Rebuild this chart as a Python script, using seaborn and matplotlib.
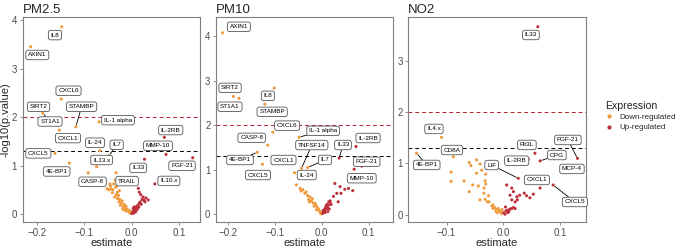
import matplotlib
matplotlib.use("Agg")
import matplotlib.pyplot as plt
from matplotlib.lines import Line2D
import seaborn as sns
import pandas as pd

# ---------------- data ----------------
panels = ["PM2.5", "PM10", "NO2"]

pm25_genes = ["IL8", "AXIN1", "CXCL6", "SIRT2", "ST1A1", "STAMBP", "IL-1 alpha", "CXCL1",
              "IL-24", "IL7", "IL13.x", "CXCL5", "4E-BP1", "CASP-8", "TRAIL", "IL33",
              "MMP-10", "IL-2RB", "FGF-21", "IL10.x"]
pm25_est = [-0.148, -0.2135, -0.149, -0.197, -0.188, -0.118, -0.069, -0.153,
            -0.067, -0.048, -0.074, -0.162, -0.132, -0.092, -0.033, 0.027,
            0.0725, 0.069, 0.129, 0.049]
pm25_logp = [3.86, 3.45, 2.37, 2.21, 2.08, 1.80, 1.90, 1.73,
             1.305, 1.20, 0.975, 1.25, 1.05, 0.85, 0.85, 1.13,
             1.23, 1.58, 1.16, 0.62]
pm25_bg_est = [-0.052, -0.048, -0.044, -0.040, -0.038, -0.035, -0.034, -0.030, -0.033, -0.036,
               -0.030, -0.028, -0.025, -0.027, -0.022, -0.024, -0.020, -0.018, -0.016, -0.014,
               -0.012, -0.010, -0.011, -0.008, -0.006, -0.005, -0.004, -0.003, -0.002, -0.001,
               -0.015, -0.019, -0.045, -0.041, -0.031, -0.046, -0.026,
               0.001, 0.002, 0.003, 0.004, 0.005, 0.006, 0.007, 0.008, 0.009, 0.010,
               0.011, 0.012, 0.013, 0.015, 0.016, 0.018, 0.020, 0.022, 0.024, 0.026,
               0.030, 0.035, 0.019, 0.028, 0.003, 0.006, 0.014, 0.016]
pm25_bg_logp = [0.52, 0.50, 0.52, 0.50, 0.62, 0.70, 0.55, 0.45, 0.40, 0.35,
                0.32, 0.38, 0.30, 0.25, 0.22, 0.18, 0.27, 0.15, 0.20, 0.12,
                0.16, 0.10, 0.06, 0.08, 0.05, 0.03, 0.07, 0.02, 0.04, 0.01,
                0.08, 0.10, 0.58, 0.44, 0.58, 0.62, 0.48,
                0.01, 0.03, 0.05, 0.02, 0.08, 0.06, 0.10, 0.04, 0.12, 0.08,
                0.15, 0.10, 0.18, 0.14, 0.22, 0.25, 0.20, 0.30, 0.35, 0.28,
                0.33, 0.29, 0.40, 0.25, 0.12, 0.15, 0.53, 0.45]

pm10_genes = ["AXIN1", "SIRT2", "ST1A1", "IL8", "STAMBP", "CXCL6", "CASP-8", "4E-BP1",
              "CXCL1", "CXCL5", "IL-1 alpha", "TNFSF14", "IL7", "IL-24", "IL33", "IL-2RB",
              "FGF-21", "MMP-10"]
pm10_est = [-0.211, -0.188, -0.176, -0.101, -0.121, -0.104, -0.115, -0.137,
            -0.126, -0.130, -0.048, -0.043, -0.030, -0.058, 0.037, 0.073,
            0.085, 0.069]
pm10_logp = [4.07, 2.64, 2.60, 2.83, 2.47, 1.84, 1.55, 1.39,
             1.12, 0.95, 1.73, 1.03, 1.05, 0.93, 1.26, 1.52,
             1.08, 1.01]
pm10_bg_est = [-0.054, -0.046, -0.040, -0.036, -0.030, -0.025, -0.028, -0.022, -0.018, -0.014,
               -0.012, -0.009, -0.007, -0.005, -0.003, -0.002, -0.020, -0.016, -0.033, -0.011,
               -0.044, -0.026, -0.001,
               0.028, 0.039, 0.049, 0.057, 0.066, 0.041, 0.032, 0.025, 0.035, 0.018,
               0.002, 0.004, 0.005, 0.006, 0.008, 0.009, 0.010, 0.011, 0.012, 0.014,
               0.015, 0.016, 0.018, 0.020, 0.003, 0.007, 0.013]
pm10_bg_logp = [0.66, 0.58, 0.55, 0.47, 0.42, 0.39, 0.33, 0.30, 0.25, 0.25,
                0.20, 0.15, 0.12, 0.08, 0.05, 0.02, 0.35, 0.18, 0.50, 0.10,
                0.52, 0.28, 0.01,
                0.69, 0.62, 0.56, 0.58, 0.53, 0.47, 0.47, 0.40, 0.28, 0.25,
                0.02, 0.05, 0.10, 0.08, 0.14, 0.18, 0.12, 0.22, 0.16, 0.20,
                0.28, 0.12, 0.30, 0.22, 0.08, 0.04, 0.06]

no2_genes = ["IL33", "IL4.x", "CD8A", "4E-BP1", "LIF", "Flt3L", "IL-2RB", "OPG",
             "FGF-21", "MCP-4", "CXCL1", "CXCL5"]
no2_est = [0.061, -0.109, -0.088, -0.153, 0.0265, 0.056, 0.044, 0.065,
           0.131, 0.120, 0.065, 0.088]
no2_logp = [3.67, 1.51, 1.13, 1.20, 0.71, 1.20, 1.08, 1.05,
            1.10, 0.95, 0.52, 0.58]
no2_bg_est = [-0.092, -0.092, -0.060, -0.057, -0.047, -0.041, -0.047, -0.038, -0.031, -0.032,
              -0.031, -0.069, -0.060, -0.054, -0.044, -0.034, -0.034, -0.041, -0.032, -0.028,
              -0.018, -0.015, -0.012, -0.009, -0.007, -0.005, -0.018, -0.013, -0.020, -0.026,
              -0.025, -0.010, -0.003, -0.002,
              0.006, 0.015, 0.018, 0.025, 0.029, 0.037, 0.041, 0.059, 0.012, 0.024,
              0.015, 0.021, 0.001, 0.005, 0.009, 0.012, 0.015, 0.018, 0.008, 0.003,
              0.021, 0.010, 0.047, 0.053, 0.004]
no2_bg_logp = [0.83, 0.65, 1.02, 0.96, 1.07, 0.99, 0.81, 0.87, 0.79, 0.66,
               0.60, 0.66, 0.45, 0.58, 0.56, 0.52, 0.42, 0.29, 0.30, 0.25,
               0.19, 0.14, 0.10, 0.12, 0.08, 0.06, 0.12, 0.06, 0.17, 0.37,
               0.25, 0.04, 0.02, 0.10,
               0.58, 0.52, 0.45, 0.29, 0.38, 0.42, 0.37, 0.64, 0.38, 0.35,
               0.29, 0.25, 0.04, 0.08, 0.09, 0.11, 0.12, 0.14, 0.04, 0.01,
               0.12, 0.06, 0.33, 0.40, 0.15]

# ---------------- label layout (pixel offsets from point, leaders) ----------------
pm25_offsets = {"IL8": (-6.7, -8.3), "AXIN1": (6.6, -8.3), "CXCL6": (7.3, 8.3), "SIRT2": (0, 0),
                "ST1A1": (7.3, -8.4), "STAMBP": (5.7, 20), "IL-1 alpha": (19, 1.7),
                "CXCL1": (8.7, -8), "IL-24": (-5, 8), "IL7": (7.7, 11), "IL13.x": (5, 6.7),
                "CXCL5": (-16.7, 0), "4E-BP1": (-12.6, -8.4), "CASP-8": (4.4, -9),
                "TRAIL": (11, -8.3), "IL33": (-6.3, -8.7), "MMP-10": (-8, 8.6),
                "IL-2RB": (6.4, 7.3), "FGF-21": (-10.7, -8), "IL10.x": (14, 3)}
pm25_leaders = {"ST1A1", "STAMBP", "IL7"}
pm10_offsets = {"AXIN1": (16.3, 6), "SIRT2": (-3.3, 8.7), "ST1A1": (-9, -8.4), "IL8": (-6.3, -7.7),
                "STAMBP": (7.3, -7.7), "CXCL6": (14.3, 6.6), "CASP-8": (-16, 7.3),
                "4E-BP1": (-17.3, -7.7), "CXCL1": (21, 4.3), "CXCL5": (-2.6, -3.1),
                "IL-1 alpha": (24, 6.3), "TNFSF14": (10.3, 23.3), "IL7": (17.4, 7.5),
                "IL-24": (12.3, -2.2), "IL33": (3.9, 13.1), "IL-2RB": (12, 8.5),
                "FGF-21": (5.1, 4.4), "MMP-10": (7.6, -9)}
pm10_leaders = {"4E-BP1", "IL-1 alpha", "TNFSF14", "IL7", "IL33"}
no2_offsets = {"IL33": (-6.9, -8.2), "IL4.x": (-7.5, 8.4), "CD8A": (-1.4, 6.8),
               "4E-BP1": (10.2, -11.7), "LIF": (-26.6, 13.3), "Flt3L": (-8.1, 8.3),
               "IL-2RB": (-11.5, -1.3), "OPG": (16.8, 5.9), "FGF-21": (-9.6, 18.4),
               "MCP-4": (0.7, -2.9), "CXCL1": (-3.2, 8.1), "CXCL5": (21.8, -17)}
no2_leaders = {"4E-BP1", "LIF", "OPG", "FGF-21", "CXCL5"}

down_col = "#EF9A3D"
up_col = "#BE2F3C"
palette = {"Down-regulated": down_col, "Up-regulated": up_col}

sns.set_theme(style="white")
plt.rcParams["font.family"] = ["Liberation Sans", "DejaVu Sans"]

fig = plt.figure(figsize=(6.83, 2.47), dpi=100)
W, H = 683.0, 247.0
lefts = [22.7, 216.0, 408.3]
pw = 177.3
top, bottom = 17.0, 222.0
xlims = [(-0.2304, 0.1444), (-0.2249, 0.1523), (-0.1675, 0.1453)]
ylims = [(-0.165, 4.062), (-0.173, 4.424), (-0.143, 3.861)]
xticks = [[-0.2, -0.1, 0.0, 0.1], [-0.2, -0.1, 0.0, 0.1], [-0.1, 0.0, 0.1]]
yticks = [[0, 1, 2, 3, 4], [0, 1, 2, 3, 4], [0, 1, 2, 3]]

data = [
    (pm25_genes, pm25_est, pm25_logp, pm25_bg_est, pm25_bg_logp, pm25_offsets, pm25_leaders),
    (pm10_genes, pm10_est, pm10_logp, pm10_bg_est, pm10_bg_logp, pm10_offsets, pm10_leaders),
    (no2_genes, no2_est, no2_logp, no2_bg_est, no2_bg_logp, no2_offsets, no2_leaders),
]

spine_col = "#7F7F7F"
for i, (genes, est, logp, bge, bgl, offs, leaders) in enumerate(data):
    ax = fig.add_axes([lefts[i] / W, 1 - bottom / H, pw / W, (bottom - top) / H])
    df = pd.DataFrame({"estimate": list(est) + list(bge),
                       "logp": list(logp) + list(bgl)})
    df["Expression"] = ["Down-regulated" if e < 0 else "Up-regulated" for e in df["estimate"]]
    ax.axhline(2, color="#B8202E", ls=(0, (4, 3)), lw=0.7, zorder=1)
    ax.axhline(1.3, color="black", ls=(0, (4, 3)), lw=0.7, zorder=1)
    sns.scatterplot(data=df, x="estimate", y="logp", hue="Expression", palette=palette,
                    s=5, linewidth=0, legend=False, ax=ax, zorder=2)
    for g, x, y in zip(genes, est, logp):
        dx, dy = offs[g]
        ap = None
        if g in leaders:
            ap = dict(arrowstyle="-", color="black", lw=0.6, shrinkA=0, shrinkB=1.5)
        ax.annotate(g, xy=(x, y), xytext=(dx, dy), textcoords="offset pixels",
                    ha="center", va="center", fontsize=4.6, color="black",
                    bbox=dict(boxstyle="round,pad=0.35,rounding_size=0.35", fc="white",
                              ec="#555555", lw=0.6),
                    arrowprops=ap, zorder=4)
    ax.set_xlim(*xlims[i])
    ax.set_ylim(*ylims[i])
    ax.set_xticks(xticks[i])
    ax.set_xticklabels([("\u2212" if t < 0 else "") + f"{abs(t):.1f}" for t in xticks[i]])
    ax.set_yticks(yticks[i])
    ax.tick_params(axis="both", which="both", direction="out", length=2.5, width=0.6,
                   color=spine_col, labelsize=7, labelcolor="#4D4D4D", pad=1.5,
                   bottom=True, left=True)
    for sp in ax.spines.values():
        sp.set_color(spine_col)
        sp.set_linewidth(0.8)
    ax.set_xlabel("estimate", fontsize=8, labelpad=0)
    if i == 0:
        ax.set_ylabel("-log10(p.value)", fontsize=8, labelpad=1)
    else:
        ax.set_ylabel("")
    ax.set_title(panels[i], loc="left", fontsize=9.5, pad=3)

handles = [Line2D([0], [0], marker="o", ls="", color=down_col, markersize=2, label="Down-regulated"),
           Line2D([0], [0], marker="o", ls="", color=up_col, markersize=2, label="Up-regulated")]
leg = fig.legend(handles=handles, title="Expression", loc="upper left",
                 bbox_to_anchor=(598 / W, 1 - 94 / H), frameon=False, fontsize=5.8,
                 title_fontsize=7.6, handlelength=1.0, handletextpad=0.8, labelspacing=0.3,
                 alignment="left")

fig.savefig("out.png", dpi=100)
